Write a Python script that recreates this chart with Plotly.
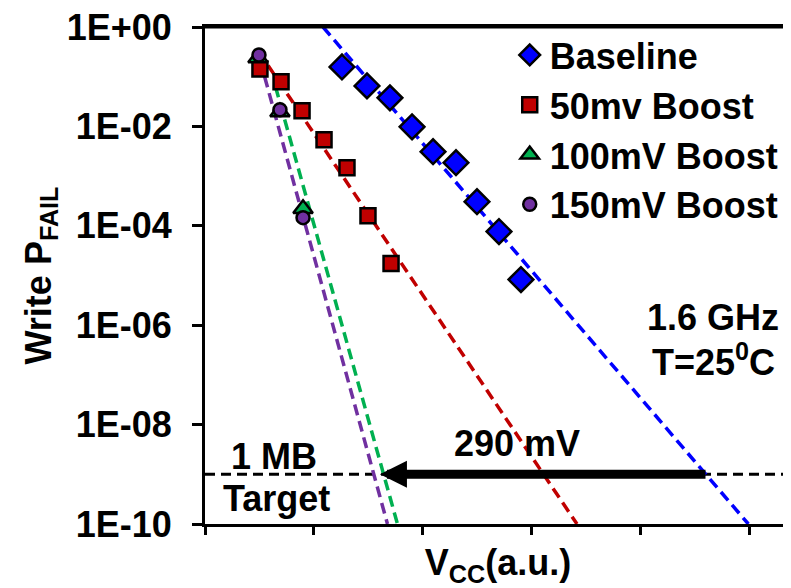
import math
import plotly.graph_objects as go

# ---- data (x in tick units, y = write failure probability) ----
base_x = [1.259, 1.489, 1.700, 1.903, 2.096, 2.307, 2.500, 2.702, 2.904]
base_y = [0.157, 0.0653, 0.0375, 0.0098, 0.0031, 0.00186, 3.06e-4, 7.65e-5, 8.3e-6]
b50_x = [0.505, 0.699, 0.892, 1.094, 1.305, 1.498, 1.710]
b50_y = [0.1435, 0.0787, 0.0206, 0.00538, 0.001475, 1.6e-4, 1.74e-5]
b100_x = [0.487, 0.689, 0.901]
b100_y = [0.238, 0.0195, 2.2e-4]
b150_x = [0.496, 0.689, 0.901]
b150_y = [0.274, 0.0216, 1.46e-4]

# fitted trend lines (end points)
fit_base_x = [1.085, 4.994]
fit_base_y = [1.0, 1e-10]
fit50_x = [0.58, 3.419]
fit50_y = [0.168, 1e-10]
fit100_x = [0.648, 1.769]
fit100_y = [0.063, 1e-10]
fit150_x = [0.548, 1.677]
fit150_y = [0.1, 1e-10]

target_y = 1e-9
target_x = [0.0, 5.386]
arrow_from_x = 4.614
arrow_to_x = 1.608

y_tickvals = [1, 1e-2, 1e-4, 1e-6, 1e-8, 1e-10]
y_ticktext = ["1E+00", "1E-02", "1E-04", "1E-06", "1E-08", "1E-10"]
x_tickvals = [0, 1, 2, 3, 4, 5]
x_range = [0, 5.386]
y_range_log = [-10.0, 0.0]

BLUE = "#0000FF"
RED = "#C00000"
GREEN = "#00B050"
PURPLE = "#7030A0"
FONT = "Liberation Sans, Arial, sans-serif"
FS = 36
FS_L = 36

fig = go.Figure()

def fit_line(x, y, color):
    fig.add_trace(go.Scatter(x=x, y=y, mode="lines", showlegend=False, hoverinfo="skip",
                             line=dict(color=color, width=3.5, dash="11px,6px")))

# target dashed line
fig.add_trace(go.Scatter(x=target_x, y=[target_y, target_y], mode="lines", showlegend=False,
                         hoverinfo="skip", line=dict(color="black", width=3, dash="10px,6px")))
fit_line(fit_base_x, fit_base_y, BLUE)
fit_line(fit50_x, fit50_y, RED)
fit_line(fit100_x, fit100_y, GREEN)
fit_line(fit150_x, fit150_y, PURPLE)

mk_line = dict(color="black", width=2.5)
fig.add_trace(go.Scatter(x=base_x, y=base_y, mode="markers", name="Baseline",
                         marker=dict(symbol="diamond", size=19, color=BLUE, line=mk_line)))
fig.add_trace(go.Scatter(x=b50_x, y=b50_y, mode="markers", name="50mv Boost",
                         marker=dict(symbol="square", size=15, color=RED, line=mk_line)))
fig.add_trace(go.Scatter(x=b100_x, y=b100_y, mode="markers", name="100mV Boost",
                         marker=dict(symbol="triangle-up", size=17, color=GREEN, line=mk_line)))
fig.add_trace(go.Scatter(x=b150_x, y=b150_y, mode="markers", name="150mV Boost",
                         marker=dict(symbol="circle", size=13, color=PURPLE, line=mk_line)))

# page offset: the browser's default body margin (8 px)
OFF = 8
L, T, W, H, B = 205, 27, 791, 588, 524
pw, ph = W - L, B - T

def px(xp):
    return (xp - L) / pw

def py(yp):
    return 1 - (yp - T) / ph

lt = math.log10(target_y)
ann_font = dict(family=FONT, size=FS, color="black", weight="bold")
fig.add_annotation(x=arrow_to_x, y=lt, ax=arrow_from_x, ay=lt, axref="x", ayref="y",
                   xref="x", yref="y", text="", showarrow=True, arrowhead=2,
                   arrowwidth=9, arrowsize=0.6, arrowcolor="black")
labels = [("290 mV", 517, 443), ("1 MB", 274, 456), ("Target", 276, 498),
          ("1.6 GHz", 713, 317), ("T=25<sup>0</sup>C", 713, 360)]
for txt, xp, yp in labels:
    fig.add_annotation(x=px(xp), y=py(yp), xref="paper", yref="paper", text=txt,
                       showarrow=False, font=ann_font, xanchor="center", yanchor="middle")

# top frame line
fig.add_shape(type="line", xref="paper", yref="paper", x0=0, x1=1, y0=1, y1=1,
              line=dict(color="black", width=3), layer="above")

fig.update_layout(
    width=W - OFF, height=H - OFF,
    margin=dict(l=L - OFF, r=0, t=T - OFF, b=H - B),
    plot_bgcolor="white", paper_bgcolor="white",
    font=dict(family=FONT, size=FS, color="black", weight="bold"),
    legend=dict(x=0.52, y=1.004, xanchor="left", yanchor="top", bgcolor="rgba(0,0,0,0)",
                font=dict(family=FONT, size=FS_L, color="black", weight="bold")),
    xaxis=dict(range=x_range, tickvals=x_tickvals, showticklabels=False, ticks="outside",
               ticklen=8, tickwidth=3, tickcolor="black", showline=True, linewidth=3,
               linecolor="black", mirror=True, showgrid=False, zeroline=False,
               title=dict(text="V<sub>CC</sub>(a.u.)", standoff=30,
                          font=dict(family=FONT, size=FS, color="black", weight="bold"))),
    yaxis=dict(type="log", range=y_range_log, tickvals=y_tickvals, ticktext=y_ticktext,
               ticks="outside", ticklen=10, tickwidth=3, tickcolor="black", showline=True,
               linewidth=3, linecolor="black", mirror=False, showgrid=False, zeroline=False,
               ticklabelstandoff=13, ticklabeloverflow="allow",
               title=dict(text="Write P<sub>FAIL</sub>", standoff=5,
                          font=dict(family=FONT, size=FS, color="black", weight="bold"))),
)

fig.write_html("out.html")
